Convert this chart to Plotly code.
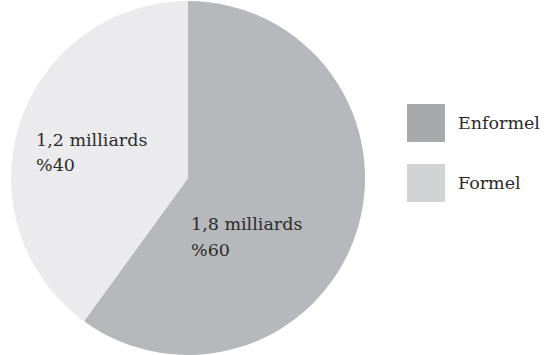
import plotly.graph_objects as go

categories = ["Enformel", "Formel"]
values = [1.8, 1.2]
percent_labels = ["%60", "%40"]
amount_labels = ["1,8 milliards", "1,2 milliards"]
slice_colors = ["#b7b8bb", "#ebebed"]
legend_colors = ["#a8a9ad", "#d2d3d5"]

W, H = 546, 355
FONT = "DejaVu Serif"
TXT = "#2b2b2b"

def px(x):
    return min(1, max(0, x / W))

def py(y):
    return min(1, max(0, 1 - y / H))

R = 177
CX, CY = 188, 178

fig = go.Figure()
fig.add_trace(go.Pie(
    labels=categories,
    values=values,
    sort=False,
    direction="clockwise",
    rotation=0,
    marker=dict(colors=slice_colors, line=dict(width=0)),
    textinfo="none",
    hoverinfo="label+value",
    showlegend=False,
    domain=dict(x=[px(CX - R), px(CX + R)], y=[py(CY + R), py(CY - R)]),
))

# slice labels (left aligned)
label_pos = {"Enformel": (189, 224, 250), "Formel": (34, 140, 165)}
annotations = []
for cat, amt, pct in zip(categories, amount_labels, percent_labels):
    x0, y1, y2 = label_pos[cat]
    for txt, yy in ((amt, y1), (pct, y2)):
        annotations.append(dict(
            x=px(x0), y=py(yy), xref="paper", yref="paper",
            xanchor="left", yanchor="middle", showarrow=False,
            text=txt, font=dict(family=FONT, size=17.5, color=TXT),
        ))

# custom legend
shapes = []
leg_y = [123, 183]
for cat, col, yc in zip(categories, legend_colors, leg_y):
    shapes.append(dict(
        type="rect", xref="paper", yref="paper",
        x0=px(407), x1=px(445), y0=py(yc - 19), y1=py(yc + 19),
        fillcolor=col, line=dict(width=0),
    ))
    annotations.append(dict(
        x=px(456), y=py(yc), xref="paper", yref="paper",
        xanchor="left", yanchor="middle", showarrow=False,
        text=cat, font=dict(family=FONT, size=17.5, color=TXT),
    ))

fig.update_layout(
    width=W, height=H,
    margin=dict(l=0, r=0, t=0, b=0),
    paper_bgcolor="white", plot_bgcolor="white",
    shapes=shapes, annotations=annotations,
    showlegend=False,
)

fig.write_html("out.html")
